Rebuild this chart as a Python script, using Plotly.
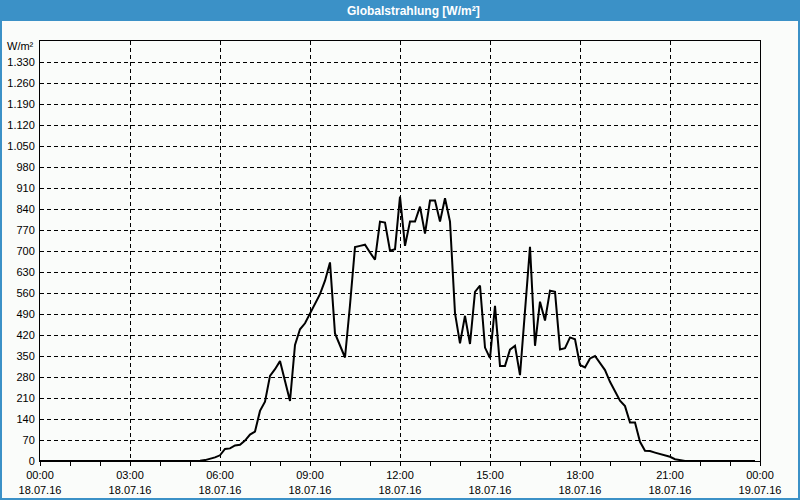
import pandas as pd
import plotly.graph_objects as go

# 10-minute samples, 18.07.16 00:00 .. 23:50  (W/m²)
radiation = [0]*32 + [
    1, 3, 7, 12,                      # 05:20-05:50
    19, 40, 42, 52, 54, 68,           # 06:00-06:50
    88, 98, 167, 198, 284, 306,       # 07:00-07:50
    333, 270, 200, 387, 439, 459,     # 08:00-08:50
    492, 523, 556, 601, 662, 425,     # 09:00-09:50
    387, 345, 520, 713, 717, 721,     # 10:00-10:50
    695, 671, 798, 795, 701, 706,     # 11:00-11:50
    881, 717, 798, 798, 848, 758,     # 12:00-12:50
    868, 868, 798, 876, 798, 493,     # 13:00-13:50
    392, 484, 390, 564, 585, 378,     # 14:00-14:50
    343, 517, 317, 317, 371, 384,     # 15:00-15:50
    286, 500, 714, 384, 531, 468,     # 16:00-16:50
    568, 564, 372, 376, 412, 406,     # 17:00-17:50
    320, 312, 342, 350, 326, 303,     # 18:00-18:50
    264, 231, 201, 183, 128, 128,     # 19:00-19:50
    64, 34, 33, 28, 23, 17,           # 20:00-20:50
    14, 6, 2,                         # 21:00-21:20
]
radiation += [0]*(144 - len(radiation))

times = pd.date_range("2016-07-18 00:00", periods=len(radiation), freq="10min")

x_tick_times = pd.date_range("2016-07-18 00:00", "2016-07-19 00:00", freq="3h")
x_tick_text = ["00:00<br>18.07.16", "03:00<br>18.07.16", "06:00<br>18.07.16",
               "09:00<br>18.07.16", "12:00<br>18.07.16", "15:00<br>18.07.16",
               "18:00<br>18.07.16", "21:00<br>18.07.16", "00:00<br>19.07.16"]
y_ticks = list(range(0, 1400, 70))

title_text = "Globalstrahlung [W/m²]"
unit_text = "W/m²"

W, H = 800, 500
L, R, T, B = 40, 40, 41, 39
pw, ph = W - L - R, H - T - B


def px(xp):
    return (xp - L) / pw


def py(yp):
    return (H - B - yp) / ph


BLUE = "#3B91C7"
BG = "#FAFCFA"
FONT = "Liberation Sans"

fig = go.Figure()
fig.add_trace(go.Scatter(
    x=times, y=radiation, mode="lines",
    line=dict(color="black", width=2), hoverinfo="skip", showlegend=False,
))

fig.update_layout(
    width=W, height=H,
    margin=dict(l=L, r=R, t=T, b=B, pad=0, autoexpand=False),
    paper_bgcolor=BG, plot_bgcolor=BG,
    separators=",.",
    font=dict(family=FONT, size=11, color="black"),
    showlegend=False,
    xaxis=dict(
        range=[x_tick_times[0], x_tick_times[-1]],
        tickvals=x_tick_times, ticktext=x_tick_text,
        automargin=False,
        showgrid=True, gridcolor="black", gridwidth=1, griddash="4px,3px",
        showline=True, linecolor="black", linewidth=1, mirror=True,
        ticks="outside", ticklen=4, tickcolor="black", tickwidth=1,
        minor=dict(dtick=3600000, ticks="outside", ticklen=4,
                   tickcolor="black", showgrid=False),
        zeroline=False, tickangle=0,
        tickfont=dict(family=FONT, size=11, color="black"),
    ),
    yaxis=dict(
        range=[0, 1400],
        tickvals=y_ticks, tickformat=",d",
        automargin=False,
        showgrid=True, gridcolor="black", gridwidth=1, griddash="4px,3px",
        showline=True, linecolor="black", linewidth=1, mirror=True,
        ticks="", zeroline=False,
        ticklabelstandoff=2,
        tickfont=dict(family=FONT, size=11, color="black"),
    ),
    shapes=[
        dict(type="rect", xref="paper", yref="paper",
             x0=px(0), x1=px(W), y0=py(21), y1=py(0),
             fillcolor=BLUE, line=dict(width=0), layer="above"),
        dict(type="rect", xref="paper", yref="paper",
             x0=px(1), x1=px(W - 1), y0=py(H - 1), y1=py(1),
             fillcolor="rgba(0,0,0,0)", line=dict(color=BLUE, width=2),
             layer="above"),
    ],
    annotations=[
        dict(text="<b>" + title_text + "</b>", xref="paper", yref="paper",
             x=px(413), y=py(10.5), xanchor="center", yanchor="middle",
             showarrow=False, font=dict(family=FONT, size=12, color="white")),
        dict(text=unit_text, xref="paper", yref="paper",
             x=px(36), y=py(46), xanchor="right", yanchor="middle",
             showarrow=False, font=dict(family=FONT, size=11, color="black")),
    ],
)

fig.write_html("out.html")
